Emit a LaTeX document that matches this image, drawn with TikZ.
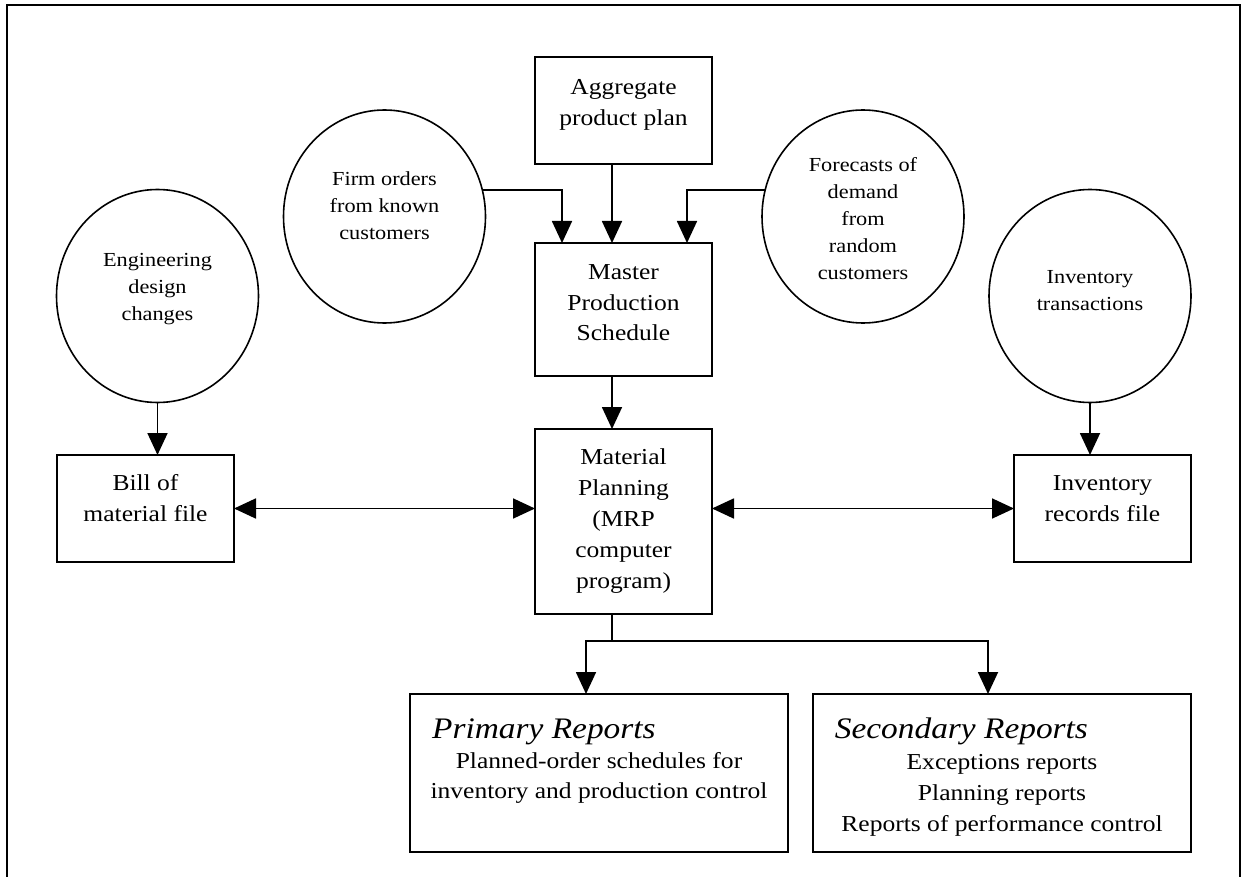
\documentclass[tikz,border=0pt]{standalone}
\usepackage{fontspec}
\setmainfont{Liberation Serif}[FakeStretch=1.12]
\usetikzlibrary{shapes.geometric,arrows.meta}
\newcommand{\mrpbxf}{\fontsize{22.8}{30.8}\selectfont}
\newcommand{\mrpcif}{\fontsize{19.9}{27}\selectfont}
\newcommand{\mrphdf}{\fontsize{29.8}{36}\selectfont\itshape}
\begin{document}
\begin{tikzpicture}[x=1pt,y=-1pt,
  shp/.style={draw, line width=1.8pt, inner sep=0pt, outer sep=0pt},
  rbox/.style={shp, rectangle},
  oval/.style={shp, line width=1.6pt, ellipse, minimum width=202pt, minimum height=213pt},
  txt/.style={inner sep=0pt, outer sep=0pt, align=center, anchor=north},
  arr/.style={line width=1.8pt, -{Triangle[length=22pt,width=20pt]}},
  darr/.style={line width=1.8pt, {Triangle[length=22pt,width=20pt]}-{Triangle[length=22pt,width=20pt]}},
  ln/.style={line width=1.8pt}]
\useasboundingbox (0,0) rectangle (1242,877);
% frame
\draw[line width=2.5pt] (7,880) -- (7,5) -- (1240,5) -- (1240,880);

% boxes
\node[rbox, minimum width=177pt, minimum height=107pt] (agg) at (623.5,110.5) {};
\node[rbox, minimum width=177pt, minimum height=133pt] (mps) at (623.5,309.5) {};
\node[rbox, minimum width=177pt, minimum height=185pt] (mrp) at (623.5,521.5) {};
\node[rbox, minimum width=177pt, minimum height=107pt] (bill) at (145.5,508.5) {};
\node[rbox, minimum width=177pt, minimum height=107pt] (inv) at (1102.5,508.5) {};
\node[rbox, minimum width=378pt, minimum height=158pt] (prim) at (599,773) {};
\node[rbox, minimum width=378pt, minimum height=158pt] (sec) at (1002,773) {};

% ellipses
\node[oval] (firm) at (384.5,216.5) {};
\node[oval] (fore) at (863,216.5) {};
\node[oval] (eng) at (157.5,296) {};
\node[oval] (invt) at (1090,296) {};

% texts
\node[txt, font=\mrpbxf] (aggT) at (623.5,73.3) {\strut Aggregate\\product plan};
\node[txt, font=\mrpbxf] (mpsT) at (623.5,257.7) {\strut Master\\Production\\Schedule};
\node[txt, font=\mrpbxf] (mrpT) at (623.5,443.4) {\strut Material\\Planning\\(MRP\\computer\\program)};
\node[txt, font=\mrpbxf] (billT) at (145.5,469) {\strut Bill of\\material file};
\node[txt, font=\mrpbxf] (invT) at (1102.5,469.4) {\strut Inventory\\records file};
\node[txt, font=\mrpcif] (firmT) at (384.5,167.1) {\strut Firm orders\\from known\\customers};
\node[txt, font=\mrpcif] (foreT) at (863,152.8) {\strut Forecasts of\\demand\\from\\random\\customers};
\node[txt, font=\mrpcif] (engT) at (157.5,247.8) {\strut Engineering\\design\\changes};
\node[txt, font=\mrpcif] (invtT) at (1090,265.1) {\strut Inventory\\transactions};
\node[inner sep=0pt, anchor=base west, font=\mrphdf] (primH) at (432,738.3) {Primary Reports};
\node[inner sep=0pt, anchor=base west, font=\mrphdf] (secH) at (834.7,738.3) {Secondary Reports};
\node[txt, font=\mrpbxf] (primT) at (599,746.6) {\strut Planned-order schedules for\\inventory and production control};
\node[txt, font=\mrpbxf] (secT) at (1002,748) {\strut Exceptions reports\\Planning reports\\Reports of performance control};

% connectors
\coordinate (mx) at (612,0);
\coordinate (fx) at (562,0);
\coordinate (rx) at (687,0);
\draw[arr] (agg.south -| mx) -- (mps.north -| mx);
\draw[arr] (mps.south -| mx) -- (mrp.north -| mx);
\draw[arr] (firm.15) -| (mps.north -| fx);
\draw[arr] (fore.165) -| (mps.north -| rx);
\draw[arr] (eng.south) -- (bill.north -| eng.south);
\draw[arr] (invt.south) -- (inv.north -| invt.south);
\draw[darr] (bill.east) -- (mrp.west |- bill.east);
\draw[darr] (mrp.east |- inv.west) -- (inv.west);
\coordinate (bl) at (586,641);
\coordinate (bri) at (988,641);
\draw[ln] (mrp.south -| mx) -- (mx |- bl);
\draw[arr] (mx |- bl) -- (bl) -- (prim.north -| bl);
\draw[arr] (mx |- bri) -- (bri) -- (sec.north -| bri);
\end{tikzpicture}
\end{document}
